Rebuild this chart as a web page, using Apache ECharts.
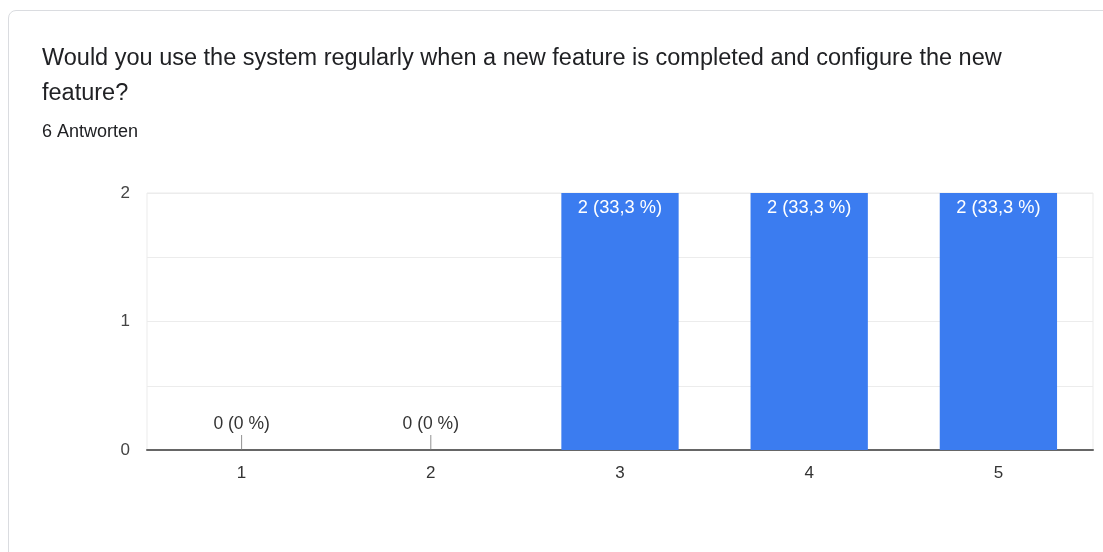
<!DOCTYPE html>
<html>
<head>
<meta charset="utf-8">
<script src="https://cdn.jsdelivr.net/npm/echarts@6/dist/echarts.min.js"></script>
<style>
  html, body { margin: 0; padding: 0; background: #fff; }
  #card {
    position: absolute; left: 8px; top: 10px; width: 1120px; height: 600px;
    border: 1px solid #dadce0; border-radius: 8px; box-sizing: border-box;
  }
  #chart { position: absolute; left: 0; top: 0; width: 1103px; height: 552px; }
</style>
</head>
<body>
<div id="card"></div>
<div id="chart"></div>
<script>
// Survey question, answer scale and response counts
const questionLines = [
  'Would you use the system regularly when a new feature is completed and configure the new',
  'feature?'
];
const responseNote = '6 Antworten';
const categories = ['1', '2', '3', '4', '5'];
const counts = [0, 0, 2, 2, 2];
const percentLabels = ['0 %', '0 %', '33,3 %', '33,3 %', '33,3 %'];
const yTicks = [0, 1, 2];

const barColor = '#3b7cf0';
const textColor = '#202124';
const font = '"Liberation Sans", Arial, Helvetica, sans-serif';

const chart = echarts.init(document.getElementById('chart'));

const barData = counts.map((v, i) => ({
  value: v,
  label: v === 0
    ? { position: 'top', distance: 17, color: '#333', fontSize: 17.5 }
    : { position: 'insideTop', distance: 6, color: '#fff', fontSize: 18.3 }
}));

// Little leader strokes that tie a zero label to the baseline
const zeroStems = counts
  .map((v, i) => (v === 0 ? [categories[i], v] : null))
  .filter(d => d !== null);

chart.setOption({
  animation: false,
  title: [
    {
      text: questionLines.join('\n'),
      left: 42, top: 41,
      padding: 0,
      textStyle: { fontFamily: font, fontSize: 23.5, fontWeight: 'normal', color: textColor, lineHeight: 35 }
    },
    {
      text: responseNote,
      left: 42, top: 123,
      padding: 0,
      textStyle: { fontFamily: font, fontSize: 18, fontWeight: 'normal', color: textColor }
    }
  ],
  grid: { left: 147, right: 10, top: 193, bottom: 102, show: true, borderColor: '#ebebeb', borderWidth: 1 },
  xAxis: {
    type: 'category',
    data: categories,
    axisLine: { lineStyle: { color: '#666', width: 2 } },
    axisTick: { show: false },
    axisLabel: { color: '#333', fontSize: 17, fontFamily: font, margin: 15 }
  },
  yAxis: {
    type: 'value',
    min: 0, max: yTicks[yTicks.length - 1], interval: 0.5,
    axisLine: { show: false },
    axisTick: { show: false },
    splitLine: { lineStyle: { color: '#ececec', width: 1 } },
    axisLabel: {
      color: '#444', fontSize: 17, fontFamily: font, margin: 17,
      formatter: v => (yTicks.includes(v) ? String(v) : '')
    }
  },
  series: [
    {
      type: 'bar',
      data: barData,
      barWidth: '62%',
      itemStyle: { color: barColor },
      label: {
        show: true,
        fontFamily: font,
        formatter: p => p.value + ' (' + percentLabels[p.dataIndex] + ')'
      }
    },
    {
      type: 'scatter',
      data: zeroStems,
      symbol: 'rect',
      symbolSize: [1, 15],
      symbolOffset: [0, '-50%'],
      itemStyle: { color: '#777' },
      silent: true,
      z: 3
    }
  ]
});
</script>
</body>
</html>
